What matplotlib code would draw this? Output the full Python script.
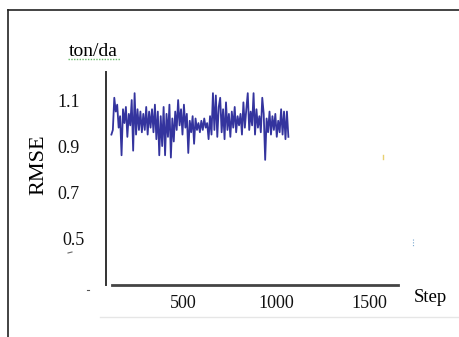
import matplotlib
matplotlib.use("Agg")
import matplotlib.pyplot as plt
import matplotlib.transforms as mtransforms
import numpy as np

plt.rcParams["font.family"] = ["Liberation Serif", "DejaVu Serif"]

# RMSE per training step
rmse = [
    0.95, 0.97, 1.11, 1.05, 1.08, 0.98, 1.03, 0.86, 1.06, 1.00, 1.07, 0.94, 1.04, 0.99, 1.10,
    0.88, 1.13, 0.95, 1.06, 0.97, 1.05, 0.96, 1.04, 0.97, 1.07, 0.95, 1.05, 0.98, 1.06,
    0.96, 1.08, 0.93, 1.05, 0.86, 1.03, 0.90, 1.07, 0.86, 1.04, 0.94, 1.08, 0.85, 1.02,
    0.92, 1.05, 0.97, 1.10, 0.99, 1.06, 0.95, 1.08, 0.98, 1.04, 0.87, 1.01, 0.96, 1.03,
    0.91, 1.02, 0.97, 1.00, 0.96, 1.01, 0.97, 1.02, 0.98, 1.00, 0.93, 1.03, 0.95, 1.13,
    0.97, 1.12, 0.94, 1.07, 1.11, 0.96, 1.06, 0.93, 1.09, 0.97, 1.04, 0.94, 1.05, 0.98,
    1.07, 0.96, 1.03, 0.99, 1.04, 0.95, 1.09, 0.98, 1.06, 1.13, 0.97, 1.05, 0.99, 1.13,
    0.95, 1.06, 0.98, 1.03, 0.96, 1.11, 1.04, 0.84, 1.02, 0.96, 1.05, 0.95, 1.03, 0.97,
    1.04, 0.94, 1.01, 0.96, 1.06, 0.95, 1.05, 0.93, 1.05, 0.94,
]
step_start = 115
step_every = 7.8
steps = step_start + step_every * np.arange(len(rmse))

y_ticks = [1.1, 0.9, 0.7, 0.5]
x_ticks = [500, 1000, 1500]

fig = plt.figure(figsize=(4.59, 3.37), dpi=100)

# scanned page frame
fig.add_artist(plt.Line2D([8 / 459, 8 / 459], [0, 1 - 10 / 337], color="#222222", lw=1.2))
fig.add_artist(plt.Line2D([8 / 459, 1], [1 - 10 / 337, 1 - 10 / 337], color="#222222", lw=1.2))
fig.add_artist(plt.Line2D([100 / 459, 1], [1 - 317 / 337, 1 - 317 / 337], color="#e6e6e6", lw=1))

# stray specks from the scan
fig.add_artist(plt.Line2D([383 / 459, 383 / 459], [1 - 155 / 337, 1 - 159 / 337], color="#e8d070", lw=1))
fig.add_artist(plt.Line2D([413 / 459, 413 / 459], [1 - 239 / 337, 1 - 247 / 337], color="#7aa8d0",
                          lw=0.8, linestyle=(0, (1, 1.5))))
fig.add_artist(plt.Line2D([87 / 459, 89 / 459], [1 - 290 / 337, 1 - 290 / 337], color="#555555", lw=0.8))
fig.add_artist(plt.Line2D([68 / 459, 72 / 459], [1 - 253 / 337, 1 - 252 / 337], color="#666666", lw=0.8))

ax = fig.add_axes([106 / 459, 1 - 285 / 337, 292 / 459, 213 / 337])
ax.plot(steps, rmse, color="#34349e", lw=1.3)

ax.set_xlim(86, 1656)
ax.set_ylim(0.296, 1.222)
ax.spines["top"].set_visible(False)
ax.spines["right"].set_visible(False)
ax.spines["left"].set_color("#333333")
ax.spines["left"].set_linewidth(1.4)
ax.spines["bottom"].set_color("#444444")
ax.spines["bottom"].set_linewidth(2)
ax.spines["bottom"].set_bounds(118, 1656)

ax.set_yticks(y_ticks)
ax.set_yticklabels([str(v) for v in y_ticks])
ax.set_xticks(x_ticks)
ax.set_xticklabels([str(v) for v in x_ticks])
ax.tick_params(axis="y", length=0, pad=19, labelsize=13, labelcolor="#111111")
ax.tick_params(axis="x", length=0, pad=7, labelsize=13, labelcolor="#111111")

# the 0.5 label sits a little further right in the scan
lbl = ax.get_yticklabels()[-1]
lbl.set_transform(lbl.get_transform() + mtransforms.ScaledTranslation(5 / 100, 0, fig.dpi_scale_trans))

fig.text(39 / 459, 1 - 165 / 337, "RMSE", rotation=90, fontsize=16, ha="center", va="center")
fig.text(93 / 459, 1 - 51 / 337, "ton/da", fontsize=14, ha="center", va="center")
fig.add_artist(plt.Line2D([68 / 459, 120 / 459], [1 - 59 / 337, 1 - 59 / 337],
                          color="#66bb66", lw=1, linestyle=(0, (1, 1))))
fig.text(430 / 459, 1 - 297 / 337, "Step", fontsize=13.5, ha="center", va="center")

fig.savefig("out.png", dpi=100)
